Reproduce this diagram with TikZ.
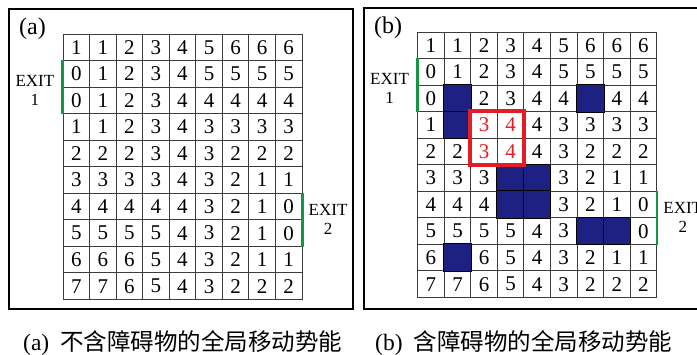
\documentclass[tikz,border=0pt]{standalone}
\usepackage{fontspec}
\setmainfont{Liberation Serif}
\newfontfamily\cjk{Noto Sans CJK SC}
\usepackage{tikz}
\definecolor{cell_gray}{RGB}{60,60,60}
\definecolor{obst_blue}{RGB}{30,32,130}
\definecolor{exit_green}{RGB}{20,150,70}
\definecolor{hot_red}{RGB}{228,28,36}
\newcommand{\hot}[1]{\textcolor{hot_red}{#1}}
\newcommand{\cellsize}{26.55}

\begin{document}
\begin{tikzpicture}[x=1pt,y=-1pt]
    \tikzstyle{panel}=[draw=black,line width=2pt]
    \tikzstyle{cell}=[draw=cell_gray,line width=0.9pt,minimum size=\cellsize pt,inner sep=0pt,font=\fontsize{21}{21}\selectfont]
    \tikzstyle{obstacle}=[fill=obst_blue,draw=black,line width=0.9pt]
    \tikzstyle{exitline}=[draw=exit_green,line width=2.6pt]
    \tikzstyle{exitlabel}=[align=center,inner sep=0pt,font=\fontsize{17}{19}\selectfont]
    \tikzstyle{tag}=[inner sep=0pt,font=\fontsize{24}{24}\selectfont]
    \tikzstyle{caption}=[anchor=west,inner sep=0pt,font=\fontsize{23.5}{24}\selectfont]
    \tikzstyle{hotbox}=[draw=hot_red,line width=4pt]

    \useasboundingbox (0,0) rectangle (697,355);

    \draw[panel] (9,9) rectangle (352.5,309);
    \draw[panel] (363.5,8.5) rectangle (720,309);

    \node[tag] (taga) at (32.5,29) {(a)};
    \node[tag] (tagb) at (388,28) {(b)};

    \begin{scope}[shift={(63,34)}]
    \foreach \row [count=\r from 0] in {{1,1,2,3,4,5,6,6,6},{0,1,2,3,4,5,5,5,5},{0,1,2,3,4,4,4,4,4},
        {1,1,2,3,4,3,3,3,3},{2,2,2,3,4,3,2,2,2},{3,3,3,3,4,3,2,1,1},{4,4,4,4,4,3,2,1,0},
        {5,5,5,5,4,3,2,1,0},{6,6,6,5,4,3,2,1,1},{7,7,6,5,4,3,2,2,2}}
      \foreach \v [count=\c from 0] in \row
        \node[cell] (a-\r-\c) at ({(\c+0.5)*\cellsize},{(\r+0.5)*\cellsize}) {\v};
    \end{scope}

    \begin{scope}[shift={(417.7,32)}]
    \foreach \row [count=\r from 0] in {{1,1,2,3,4,5,6,6,6},{0,1,2,3,4,5,5,5,5},{0,{},2,3,4,4,{},4,4},
        {1,{},\hot{3},\hot{4},4,3,3,3,3},{2,2,\hot{3},\hot{4},4,3,2,2,2},{3,3,3,{},{},3,2,1,1},
        {4,4,4,{},{},3,2,1,0},{5,5,5,5,4,3,{},{},0},{6,{},6,5,4,3,2,1,1},{7,7,6,5,4,3,2,2,2}}
      \foreach \v [count=\c from 0] in \row
        \node[cell] (b-\r-\c) at ({(\c+0.5)*\cellsize},{(\r+0.5)*\cellsize}) {\v};
    \end{scope}

    \foreach \r/\c in {2/1,3/1,2/6,5/3,5/4,6/3,6/4,7/6,7/7,8/1}
      \path[obstacle] (b-\r-\c.north west) rectangle (b-\r-\c.south east);
    \draw[hotbox] (b-3-2.north west) rectangle (b-4-3.south east);

    \draw[exitline] (a-1-0.north west) -- node[exitlabel,left=7pt,yshift=-3pt] {EXIT\\1} (a-2-0.south west);
    \draw[exitline] (a-6-8.north east) -- node[exitlabel,right=5pt] {EXIT\\2} (a-7-8.south east);
    \draw[exitline] (b-1-0.north west) -- node[exitlabel,left=7pt,yshift=-3pt] {EXIT\\1} (b-2-0.south west);
    \draw[exitline] (b-6-8.north east) -- node[exitlabel,right=5pt] {EXIT\\2} (b-7-8.south east);

    \node[caption] (capa) at (23,343) {(a)\hspace{11pt}{\cjk 不含障碍物的全局移动势能}};
    \node[caption] (capb) at (375,343) {(b)\hspace{11pt}{\cjk 含障碍物的全局移动势能}};
\end{tikzpicture}
\end{document}
